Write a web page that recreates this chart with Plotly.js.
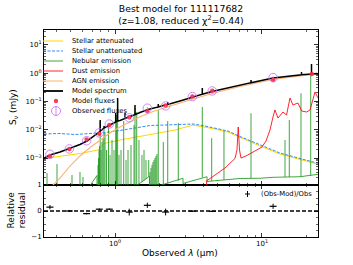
<!DOCTYPE html>
<html><head><meta charset="utf-8">
<script src="https://cdn.plot.ly/plotly-3.0.1.min.js"></script>
<style>html,body{margin:0;padding:0;background:#fff;} #chart{width:353px;height:265px;}</style>
</head><body><div id="chart"></div>
<script>
// ---------------- DATA (wavelength in micron, flux in mJy) ----------------
const bandWave  = [0.361, 0.489, 0.641, 0.782, 0.914, 1.25, 1.66, 2.21, 3.36, 4.59, 11.9, 21.8];
const obsFlux   = [0.00135, 0.00209, 0.00407, 0.00776, 0.01585, 0.0263, 0.0575, 0.0692, 0.148, 0.234, 0.692, null];
const obsErr    = [0.000108, 0.0000627, 0.000122, 0.000233, 0.000476, 0.00342, 0.00575, 0.0090, 0.00444, 0.00702, 0.0692, null];
const modelFlux = [0.00115, 0.00209, 0.00448, 0.00722, 0.01474, 0.0274, 0.0449, 0.0720, 0.149, 0.237, 0.567, 0.929];

const specWave = [0.3289, 0.3612, 0.4225, 0.4942, 0.5779, 0.6448, 0.7308, 0.7906, 0.7931, 0.7931, 0.7931, 0.8419, 0.8419, 0.8419, 0.9247,
  1.011, 1.011, 1.011, 1.042, 1.042, 1.042, 1.081, 1.170, 1.170, 1.170, 1.265, 1.368, 1.368, 1.368, 1.479, 1.677,
  1.970, 1.970, 1.970, 2.188, 2.284, 2.284, 2.284, 2.767, 3.394, 3.926, 3.926, 3.926, 4.570, 7.085, 8.418, 8.418, 8.418,
  11.88, 15.50, 18.14, 18.57, 18.57, 18.57, 21.72, 21.72, 21.72, 23.66, 24.04];
const specFlux = [0.00100, 0.00128, 0.00163, 0.00217, 0.00300, 0.00399, 0.00624, 0.00864, 0.00880, 0.0220, 0.00880, 0.0115, 0.0135, 0.0115, 0.0147,
  0.0187, 0.0389, 0.0187, 0.0203, 0.1318, 0.0203, 0.0211, 0.0250, 0.0389, 0.0250, 0.0293, 0.0340, 0.0746, 0.0340, 0.0405, 0.0517,
  0.0634, 0.0809, 0.0634, 0.0746, 0.0780, 0.0950, 0.0780, 0.1033, 0.1430, 0.178, 0.2975, 0.178, 0.2238, 0.390, 0.458, 0.570, 0.458,
  0.671, 0.790, 0.857, 0.870, 1.094, 0.870, 0.929, 2.097, 0.929, 0.968, 0.930];

const unattWave = [0.3289, 0.4225, 0.5349, 0.6762, 0.8551, 1.081, 1.368, 1.730, 2.188, 2.767, 3.394, 4.094, 4.789, 5.869, 7.085, 9.691, 13.26, 18.14, 23.66, 24.04];
const unattFlux = [0.00705, 0.00735, 0.00676, 0.00735, 0.00796, 0.00938, 0.01148, 0.01406, 0.01466, 0.01528, 0.01589, 0.01352, 0.01148, 0.00899, 0.00575, 0.00288, 0.00150, 0.00096, 0.000666, 0.00065];

const attWave = [0.3289, 0.4225, 0.5779, 0.7660, 0.8032, 0.8419, 1.081, 1.479, 2.023, 2.560, 3.394, 4.094, 4.789, 5.869, 7.085, 9.691, 13.26, 18.14, 23.66, 24.04];
const attFlux = [0.00096, 0.00113, 0.00144, 0.00192, 0.00245, 0.00325, 0.00432, 0.00575, 0.00764, 0.00975, 0.0146, 0.01245, 0.0106, 0.00827, 0.00529, 0.00265, 0.00138, 0.00088, 0.00061, 0.00060];

const agnWave = [0.3612, 0.4225, 0.4942, 0.5779, 0.6762, 0.7906, 0.9247, 1.081, 1.265, 1.479, 1.813, 2.188, 2.767, 3.50, 4.57, 7.085, 11.88, 18.14, 23.66, 24.04];
const agnFlux = [0.000087, 0.000196, 0.000521, 0.00118, 0.00235, 0.00432, 0.00764, 0.01245, 0.0195, 0.0288, 0.0440, 0.0608, 0.0877, 0.1265, 0.190, 0.336, 0.594, 0.791, 0.929, 0.930];

const dustWave = [4.20, 4.20, 4.292, 4.789, 5.601, 6.551, 6.757, 6.895, 7.030, 7.196, 7.785, 8.962, 10.0, 10.65, 11.34, 11.88, 12.25, 12.85, 13.89, 14.68, 15.51, 16.24, 17.57, 18.62, 20.14, 21.22, 22.23, 22.94, 24.04];
const dustFlux = [0.000033, 0.000160, 0.000167, 0.000251, 0.000443, 0.00096, 0.00192, 0.01245, 0.00192, 0.00100, 0.00118, 0.00177, 0.00245, 0.00399, 0.00975, 0.0281, 0.0497, 0.0259, 0.0422, 0.0330, 0.132, 0.0746, 0.0877, 0.0458, 0.0422, 0.0497, 0.112, 0.215, 0.132];

const nebContWave = [0.3289, 0.6100, 0.7544, 0.7544, 1.411, 1.717, 1.717, 2.023, 2.901, 2.901, 4.226, 4.226, 7.085, 9.691, 11.88, 18.14, 24.04];
const nebContFlux = [0.00001, 0.00005, 0.000241, 0.00001, 0.000107, 0.000226, 0.00001, 0.000107, 0.000192, 0.000126, 0.000218, 0.000148, 0.000189, 0.000192, 0.000208, 0.000218, 0.000265];

const nebLineWave = [0.3447, 0.4031, 0.5099, 0.5779, 0.6056, 0.7664, 0.7724, 0.7785, 0.7846, 0.7931, 0.8032, 0.8159, 0.8288, 0.8419, 0.8551, 0.8753,
  0.9033, 0.9247, 0.9541, 0.9845, 1.011, 1.024, 1.042, 1.065, 1.099, 1.146, 1.188, 1.226, 1.285, 1.347, 1.368, 1.405,
  1.456, 1.526, 1.575, 1.625, 1.696,
  1.730, 1.758, 1.785, 1.813, 1.842, 1.871, 1.900, 1.930, 1.970,
  2.131, 2.284, 2.696, 3.926, 4.548, 5.513, 8.418, 14.34, 15.34, 18.42, 21.45];
const nebLinePeak = [0.000295, 0.000614, 0.000251, 0.000320, 0.000213, 0.000566, 0.00100, 0.00192, 0.00265, 0.0203, 0.00192, 0.00367, 0.00509, 0.0115, 0.00765, 0.00192,
  0.0147, 0.00128, 0.00433, 0.00192, 0.0259, 0.0331, 0.1033, 0.00128, 0.00192, 0.0203, 0.00085, 0.00192, 0.00288, 0.0147, 0.0584, 0.0422,
  0.00433, 0.00128, 0.00192, 0.00085, 0.00085,
  0.00032, 0.000444, 0.000566, 0.000722, 0.00085, 0.00100, 0.00118, 0.00138, 0.0497,
  0.00367, 0.0203, 0.0172, 0.0634, 0.0050, 0.00922, 0.0380, 0.00433, 0.0220, 0.1932, 0.790];
const nebLineBase = [0.00001, 0.00001, 0.00001, 0.00001, 0.00001, 0.00001, 0.00001, 0.00001, 0.00001, 0.00001, 0.00001, 0.00001, 0.00001, 0.00001, 0.00001, 0.00001,
  0.00001, 0.00001, 0.00001, 0.00001, 0.00001, 0.00001, 0.00001, 0.00001, 0.00001, 0.00001, 0.00001, 0.00001, 0.00001, 0.00001, 0.00001, 0.00001,
  0.000121, 0.000142, 0.000160, 0.000181, 0.000213,
  0.00001, 0.00001, 0.00001, 0.00001, 0.00001, 0.00001, 0.00001, 0.00001, 0.00001,
  0.000116, 0.000126, 0.000160, 0.000205, 0.000154, 0.000167, 0.000192, 0.000213, 0.000213, 0.000218, 0.000241];

const legendLabels = ['Stellar attenuated', 'Stellar unattenuated', 'Nebular emission', 'Dust emission', 'AGN emission', 'Model spectrum', 'Model fluxes', 'Observed fluxes'];
const xTickVals = [1, 10];
const xTickText = ['10<sup>0</sup>', '10<sup>1</sup>'];
const yTickVals = [0.001, 0.01, 0.1, 1, 10];
const yTickText = ['10<sup>\u22123</sup>', '10<sup>\u22122</sup>', '10<sup>\u22121</sup>', '10<sup>0</sup>', '10<sup>1</sup>'];
const rTickVals = [-1, 0, 1];
const rTickText = ['\u22121', '0', '1'];

// ---------------- STYLE / GEOMETRY ----------------
const W = 353, H = 265, ML = 44, MR = 35, MT = 30, MB = 28;
const PW = W - ML - MR, PH = H - MT - MB;
const pxX = v => (v - ML) / PW;
const pxY = v => (H - MB - v) / PH;
const split = pxY(185);
const FONT = 'DejaVu Sans, sans-serif';

const C = {
  att: 'rgb(255,215,0)', unatt: 'rgba(13,117,248,0.85)', neb: 'rgba(30,150,30,0.85)',
  dust: 'rgba(255,0,13,0.85)', agn: '#ffb16d', model: '#000', mflux: 'rgba(251,41,67,0.9)', obs: 'rgba(191,119,246,0.85)'
};

// nebular line segments
const nlx = [], nly = [];
nebLineWave.forEach((w, i) => { nlx.push(w, w, null); nly.push(nebLineBase[i], nebLinePeak[i], null); });

const nObs = obsFlux.filter(v => v !== null).length;
const resWave = bandWave.slice(0, nObs);
const resVal = resWave.map((w, i) => (obsFlux[i] - modelFlux[i]) / obsFlux[i]);
const resErr = resWave.map((w, i) => obsErr[i] / obsFlux[i]);

const main = {xaxis: 'x2', yaxis: 'y2', showlegend: false, hoverinfo: 'skip'};
const traces = [
  Object.assign({x: attWave, y: attFlux, mode: 'lines', line: {color: C.att, width: 1}}, main),
  Object.assign({x: unattWave, y: unattFlux, mode: 'lines', line: {color: C.unatt, width: 1, dash: '3px,1.5px'}}, main),
  Object.assign({x: nebContWave, y: nebContFlux, mode: 'lines', line: {color: C.neb, width: 1}}, main),
  Object.assign({x: nlx, y: nly, mode: 'lines', line: {color: C.neb, width: 1}, connectgaps: false}, main),
  Object.assign({x: dustWave, y: dustFlux, mode: 'lines', line: {color: C.dust, width: 1}}, main),
  Object.assign({x: agnWave, y: agnFlux, mode: 'lines', line: {color: C.agn, width: 1.1}}, main),
  Object.assign({x: specWave, y: specFlux, mode: 'lines', line: {color: C.model, width: 1.5}}, main),
  Object.assign({x: bandWave, y: modelFlux, mode: 'markers', marker: {color: C.mflux, size: 4.5}}, main),
  Object.assign({x: bandWave, y: obsFlux, mode: 'markers', marker: {symbol: 'circle-open', color: C.obs, size: 8.5, line: {width: 1}},
    error_y: {type: 'data', array: obsErr, visible: true, color: C.obs, thickness: 1, width: 0}}, main),
  {x: resWave, y: resVal, xaxis: 'x', yaxis: 'y', mode: 'markers', showlegend: false, hoverinfo: 'skip',
    marker: {symbol: 'line-ew-open', size: 5, color: '#000', line: {width: 1.2, color: '#000'}},
    error_y: {type: 'data', array: resErr, visible: true, color: '#000', thickness: 1, width: 0}}
];

function minorLog(lo, hi) { const v = []; for (let e = lo; e <= hi; e++) for (let d = 2; d <= 9; d++) v.push(d * Math.pow(10, e)); return v; }

const axBase = {showline: true, linecolor: '#000', linewidth: 1, mirror: 'allticks', ticks: 'inside', ticklen: 4, tickwidth: 0.8,
  tickcolor: '#000', showgrid: false, zeroline: false, tickfont: {family: FONT, size: 7, color: '#000'}};
const xCommon = Object.assign({}, axBase, {type: 'log', range: [-0.483, 1.381], tickmode: 'array', tickvals: xTickVals, ticktext: xTickText,
  minor: {tickmode: 'array', tickvals: minorLog(-1, 1), ticks: 'inside', ticklen: 2, tickwidth: 0.6, tickcolor: '#000'}});

const shapes = [
  {type: 'line', xref: 'paper', yref: 'y', x0: 0, x1: 1, y0: 0, y1: 0, line: {color: '#000', width: 1.3, dash: '4px,2px'}}
];
const annotations = [];
const legColors = [C.att, C.unatt, C.neb, C.dust, C.agn, C.model];
const legDash = ['solid', '3px,1.5px', 'solid', 'solid', 'solid', 'solid'];
const legWidth = [1, 1, 1, 1, 1, 1.8];
legendLabels.forEach((lab, i) => {
  const yc = 41 + 10 * i;
  if (i < 6) {
    shapes.push({type: 'line', xref: 'paper', yref: 'paper', x0: pxX(43), x1: pxX(63), y0: pxY(yc), y1: pxY(yc),
      line: {color: legColors[i], width: legWidth[i], dash: legDash[i]}});
  } else if (i === 6) {
    shapes.push({type: 'circle', xref: 'paper', yref: 'paper', x0: pxX(56 - 2.2), x1: pxX(56 + 2.2), y0: pxY(yc + 2.2), y1: pxY(yc - 2.2),
      fillcolor: C.mflux, line: {width: 0}});
  } else {
    shapes.push({type: 'circle', xref: 'paper', yref: 'paper', x0: pxX(56 - 4.5), x1: pxX(56 + 4.5), y0: pxY(yc + 4.5), y1: pxY(yc - 4.5),
      line: {color: C.obs, width: 1}});
    shapes.push({type: 'line', xref: 'paper', yref: 'paper', x0: pxX(56), x1: pxX(56), y0: pxY(yc - 5), y1: pxY(yc + 5),
      line: {color: C.obs, width: 1}});
  }
  annotations.push({xref: 'paper', yref: 'paper', x: pxX(70), y: pxY(yc), xanchor: 'left', yanchor: 'middle', showarrow: false,
    text: lab, font: {family: FONT, size: 6.8, color: '#000'}});
});
// residual legend
shapes.push({type: 'line', xref: 'paper', yref: 'paper', x0: pxX(245), x1: pxX(250), y0: pxY(194), y1: pxY(194), line: {color: '#000', width: 1}});
shapes.push({type: 'line', xref: 'paper', yref: 'paper', x0: pxX(247.5), x1: pxX(247.5), y0: pxY(191), y1: pxY(197), line: {color: '#000', width: 1}});
annotations.push({xref: 'paper', yref: 'paper', x: pxX(259), y: pxY(194), xanchor: 'left', yanchor: 'middle', showarrow: false,
  text: '(Obs-Mod)/Obs', font: {family: FONT, size: 6.8, color: '#000'}});
// axis titles
annotations.push({xref: 'paper', yref: 'paper', x: pxX(13), y: pxY(107), xanchor: 'center', yanchor: 'middle', showarrow: false, textangle: -90,
  text: 'S<sub>\u03bd</sub> (mJy)', font: {family: FONT, size: 9, color: '#000'}});
annotations.push({xref: 'paper', yref: 'paper', x: pxX(16.5), y: pxY(210), xanchor: 'center', yanchor: 'middle', showarrow: false, textangle: -90,
  text: 'Relative<br>residual', font: {family: FONT, size: 9, color: '#000'}});
annotations.push({xref: 'paper', yref: 'paper', x: pxX(180), y: pxY(253), xanchor: 'center', yanchor: 'middle', showarrow: false,
  text: 'Observed <i>\u03bb</i> (\u03bcm)', font: {family: FONT, size: 9, color: '#000'}});

const layout = {
  width: W, height: H, margin: {l: ML, r: MR, t: MT, b: MB}, paper_bgcolor: '#fff', plot_bgcolor: '#fff',
  font: {family: FONT, color: '#000'},
  title: {text: 'Best model for 111117682<br>(z=1.08, reduced \u03c7<sup>2</sup>=0.44)', x: 0.5, xref: 'paper', xanchor: 'center',
    y: 0.955, yref: 'container', yanchor: 'top', font: {family: FONT, size: 9.3, color: '#000'}},
  xaxis: Object.assign({}, xCommon, {anchor: 'y', domain: [0, 1]}),
  xaxis2: Object.assign({}, xCommon, {anchor: 'y2', domain: [0, 1], matches: 'x', showticklabels: false}),
  yaxis: Object.assign({}, axBase, {anchor: 'x', domain: [0, split], range: [-1, 1], tickmode: 'array', tickvals: rTickVals, ticktext: rTickText,
    minor: {tickmode: 'array', tickvals: [-0.75, -0.5, -0.25, 0.25, 0.5, 0.75], ticks: 'inside', ticklen: 2, tickwidth: 0.6, tickcolor: '#000'}}),
  yaxis2: Object.assign({}, axBase, {anchor: 'x2', domain: [split, 1], type: 'log', range: [-3.954, 1.523], tickmode: 'array',
    tickvals: yTickVals, ticktext: yTickText,
    minor: {tickmode: 'array', tickvals: minorLog(-4, 1), ticks: 'inside', ticklen: 2, tickwidth: 0.6, tickcolor: '#000'}}),
  shapes: shapes, annotations: annotations
};

Plotly.newPlot('chart', traces, layout, {staticPlot: true, displayModeBar: false});
</script>
</body></html>
